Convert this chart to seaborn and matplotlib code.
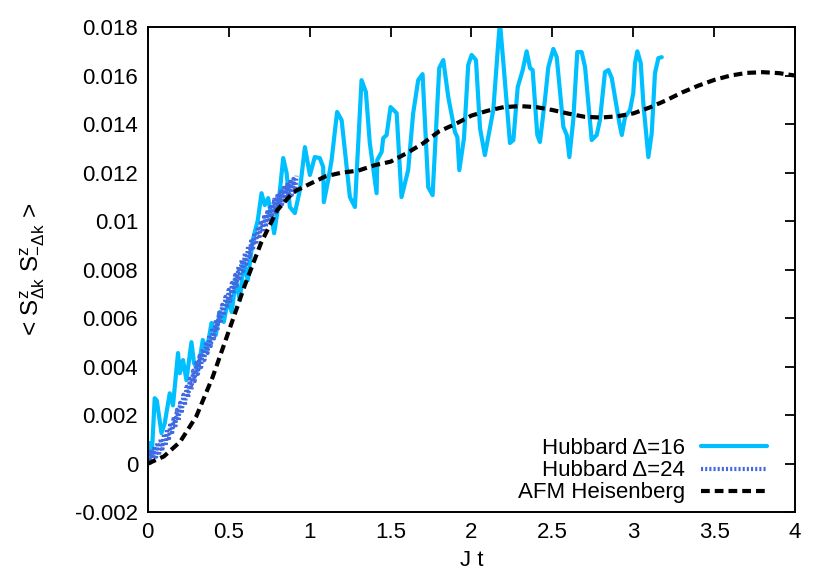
import numpy as np
import pandas as pd
import matplotlib
matplotlib.use("Agg")
import matplotlib.pyplot as plt
import seaborn as sns
from matplotlib.ticker import MultipleLocator, FuncFormatter

# Hubbard Delta=16 (vertices)
hub16_t = [0.000, 0.012, 0.025, 0.043, 0.056, 0.085, 0.105, 0.136, 0.156, 0.187,
           0.198, 0.218, 0.239, 0.270, 0.286, 0.311, 0.340, 0.365, 0.394, 0.420,
           0.445, 0.470, 0.495, 0.519, 0.544, 0.569, 0.594, 0.618, 0.649, 0.680,
           0.703, 0.723, 0.744, 0.781, 0.806, 0.837, 0.858, 0.878, 0.909, 0.940,
           0.971, 1.002, 1.032, 1.063, 1.084, 1.088, 1.115, 1.136, 1.170, 1.198,
           1.249, 1.280, 1.321, 1.348, 1.372, 1.414, 1.418, 1.445, 1.455, 1.476,
           1.500, 1.538, 1.568, 1.609, 1.640, 1.671, 1.698, 1.733, 1.760, 1.801,
           1.826, 1.857, 1.898, 1.913, 1.925, 1.954, 1.980, 2.001, 2.028, 2.053,
           2.083, 2.135, 2.166, 2.176, 2.201, 2.238, 2.259, 2.286, 2.317, 2.341,
           2.362, 2.378, 2.407, 2.423, 2.454, 2.475, 2.506, 2.527, 2.568, 2.589,
           2.605, 2.629, 2.654, 2.681, 2.702, 2.743, 2.774, 2.794, 2.825, 2.846,
           2.867, 2.914, 2.929, 2.949, 2.980, 3.000, 3.011, 3.025, 3.046, 3.062,
           3.093, 3.114, 3.134, 3.155, 3.176]
hub16_s = [0.00010, 0.00085, 0.00035, 0.00270, 0.00260, 0.00126, 0.00167, 0.00290, 0.00240, 0.00456,
           0.00373, 0.00427, 0.00344, 0.00501, 0.00414, 0.00386, 0.00510, 0.00468, 0.00580, 0.00530,
           0.00625, 0.00584, 0.00674, 0.00625, 0.00757, 0.00674, 0.00831, 0.00757, 0.00922, 0.01004,
           0.01115, 0.01066, 0.01095, 0.00950, 0.01058, 0.01260, 0.01198, 0.01058, 0.01033, 0.01128,
           0.01305, 0.01190, 0.01264, 0.01260, 0.01223, 0.01078, 0.01169, 0.01252, 0.01450, 0.01416,
           0.01099, 0.01058, 0.01581, 0.01532, 0.01322, 0.01115, 0.01252, 0.01285, 0.01342, 0.01355,
           0.01470, 0.01445, 0.01099, 0.01210, 0.01445, 0.01581, 0.01606, 0.01140, 0.01107, 0.01631,
           0.01664, 0.01511, 0.01367, 0.01346, 0.01210, 0.01342, 0.01644, 0.01685, 0.01664, 0.01383,
           0.01272, 0.01458, 0.01738, 0.01821, 0.01623, 0.01322, 0.01334, 0.01553, 0.01623, 0.01700,
           0.01631, 0.01623, 0.01355, 0.01326, 0.01499, 0.01635, 0.01710, 0.01676, 0.01388, 0.01355,
           0.01264, 0.01416, 0.01697, 0.01697, 0.01635, 0.01334, 0.01355, 0.01416, 0.01614, 0.01623,
           0.01590, 0.01404, 0.01355, 0.01429, 0.01458, 0.01528, 0.01652, 0.01700, 0.01652, 0.01487,
           0.01264, 0.01363, 0.01610, 0.01672, 0.01676]

# Hubbard Delta=24 (fast small zigzag)
hub24_t = [0.00, 0.01, 0.02, 0.03, 0.04, 0.05, 0.06, 0.07, 0.08, 0.09,
           0.10, 0.11, 0.12, 0.13, 0.14, 0.15, 0.16, 0.17, 0.18, 0.19,
           0.20, 0.21, 0.22, 0.23, 0.24, 0.25, 0.26, 0.27, 0.28, 0.29,
           0.30, 0.31, 0.32, 0.33, 0.34, 0.35, 0.36, 0.37, 0.38, 0.39,
           0.40, 0.41, 0.42, 0.43, 0.44, 0.45, 0.46, 0.47, 0.48, 0.49,
           0.50, 0.51, 0.52, 0.53, 0.54, 0.55, 0.56, 0.57, 0.58, 0.59,
           0.60, 0.61, 0.62, 0.63, 0.64, 0.65, 0.66, 0.67, 0.68, 0.69,
           0.70, 0.71, 0.72, 0.73, 0.74, 0.75, 0.76, 0.77, 0.78, 0.79,
           0.80, 0.81, 0.82, 0.83, 0.84, 0.85, 0.86, 0.87, 0.88, 0.89,
           0.90, 0.91, 0.92]
hub24_s = [0.00000, -0.00009, 0.00057, 0.00003, 0.00070, 0.00018, 0.00086, 0.00034, 0.00102, 0.00052,
           0.00123, 0.00073, 0.00143, 0.00095, 0.00168, 0.00120, 0.00193, 0.00147, 0.00222, 0.00176,
           0.00251, 0.00207, 0.00284, 0.00240, 0.00317, 0.00273, 0.00350, 0.00306, 0.00383, 0.00340,
           0.00416, 0.00370, 0.00444, 0.00398, 0.00473, 0.00427, 0.00502, 0.00456, 0.00531, 0.00485,
           0.00560, 0.00516, 0.00593, 0.00547, 0.00622, 0.00578, 0.00655, 0.00611, 0.00688, 0.00642,
           0.00717, 0.00671, 0.00745, 0.00701, 0.00778, 0.00734, 0.00811, 0.00765, 0.00840, 0.00794,
           0.00869, 0.00823, 0.00898, 0.00852, 0.00927, 0.00880, 0.00952, 0.00904, 0.00976, 0.00928,
           0.01001, 0.00954, 0.01026, 0.00976, 0.01046, 0.00997, 0.01067, 0.01017, 0.01088, 0.01036,
           0.01104, 0.01053, 0.01121, 0.01069, 0.01137, 0.01084, 0.01150, 0.01096, 0.01162, 0.01108,
           0.01174, 0.01120, 0.01187]

# AFM Heisenberg
afm_t = [0.0, 0.1, 0.2, 0.3, 0.4, 0.5, 0.6, 0.7, 0.8, 0.9,
         1.0, 1.1, 1.2, 1.3, 1.4, 1.5, 1.6, 1.7, 1.8, 1.9,
         2.0, 2.1, 2.2, 2.3, 2.4, 2.5, 2.6, 2.7, 2.8, 2.9,
         3.0, 3.1, 3.2, 3.3, 3.4, 3.5, 3.6, 3.7, 3.8, 3.9, 4.0]
afm_s = [0.00000, 0.00030, 0.00090, 0.00195, 0.00355, 0.00545, 0.00736, 0.00910, 0.01045, 0.01120,
         0.01153, 0.01185, 0.01200, 0.01208, 0.01230, 0.01245, 0.01280, 0.01320, 0.01370, 0.01400,
         0.01435, 0.01455, 0.01470, 0.01474, 0.01470, 0.01458, 0.01443, 0.01430, 0.01427, 0.01432,
         0.01444, 0.01468, 0.01497, 0.01530, 0.01558, 0.01582, 0.01600, 0.01611, 0.01614, 0.01610,
         0.01600]

labels = ["Hubbard \u0394=16", "Hubbard \u0394=24", "AFM Heisenberg"]

sns.set_theme(style="white")
plt.rcParams["font.family"] = ["Liberation Sans", "DejaVu Sans"]
plt.rcParams["mathtext.fontset"] = "custom"
plt.rcParams["mathtext.rm"] = "Liberation Sans"
plt.rcParams["mathtext.it"] = "Liberation Sans"
plt.rcParams["text.color"] = "black"
plt.rcParams["axes.labelcolor"] = "black"
plt.rcParams["xtick.color"] = "black"
plt.rcParams["ytick.color"] = "black"

fig = plt.figure(figsize=(8.3, 5.82), dpi=100)
ax = fig.add_axes([0.178, 0.120, 0.780, 0.8335])

fs = 16
lw = 3.0
sns.lineplot(data=pd.DataFrame({"t": hub16_t, "s": hub16_s}), x="t", y="s", ax=ax,
             sort=False, estimator=None, color="#00bfff", lw=lw, label=labels[0])
sns.lineplot(data=pd.DataFrame({"t": hub24_t, "s": hub24_s}), x="t", y="s", ax=ax,
             sort=False, estimator=None, color="#4169e1", lw=lw, linestyle=(0, (0.5, 0.5)),
             label=labels[1])
sns.lineplot(data=pd.DataFrame({"t": afm_t, "s": afm_s}), x="t", y="s", ax=ax,
             sort=False, estimator=None, color="black", lw=lw, linestyle=(0, (2.1, 1.2)),
             label=labels[2])

ax.set_xlim(0, 4)
ax.set_ylim(-0.002, 0.018)
ax.xaxis.set_major_locator(MultipleLocator(0.5))
ax.yaxis.set_major_locator(MultipleLocator(0.002))
ax.xaxis.set_major_formatter(FuncFormatter(lambda v, p: "%g" % round(v, 6)))
ax.yaxis.set_major_formatter(FuncFormatter(lambda v, p: "%g" % round(v, 6)))
ax.tick_params(direction="in", length=7, width=1.3, top=True, right=True,
               labelsize=fs, pad=7, colors="black")
for sp in ax.spines.values():
    sp.set_visible(True)
    sp.set_color("black")
    sp.set_linewidth(1.4)

ax.set_xlabel("J t", fontsize=fs, labelpad=5)
ax.set_ylabel(r"< S$^{\mathregular{z}}_{\mathregular{\Delta k}}$ S$^{\mathregular{z}}_{\mathregular{-\Delta k}}$ >",
              fontsize=17.5, labelpad=20)

leg = ax.legend(loc="lower right", bbox_to_anchor=(0.957, 0.018), frameon=False,
                markerfirst=False, fontsize=fs, handlelength=3.0, handletextpad=0.7,
                labelspacing=0.05, borderpad=0, borderaxespad=0)

fig.savefig("out.png", dpi=100)
